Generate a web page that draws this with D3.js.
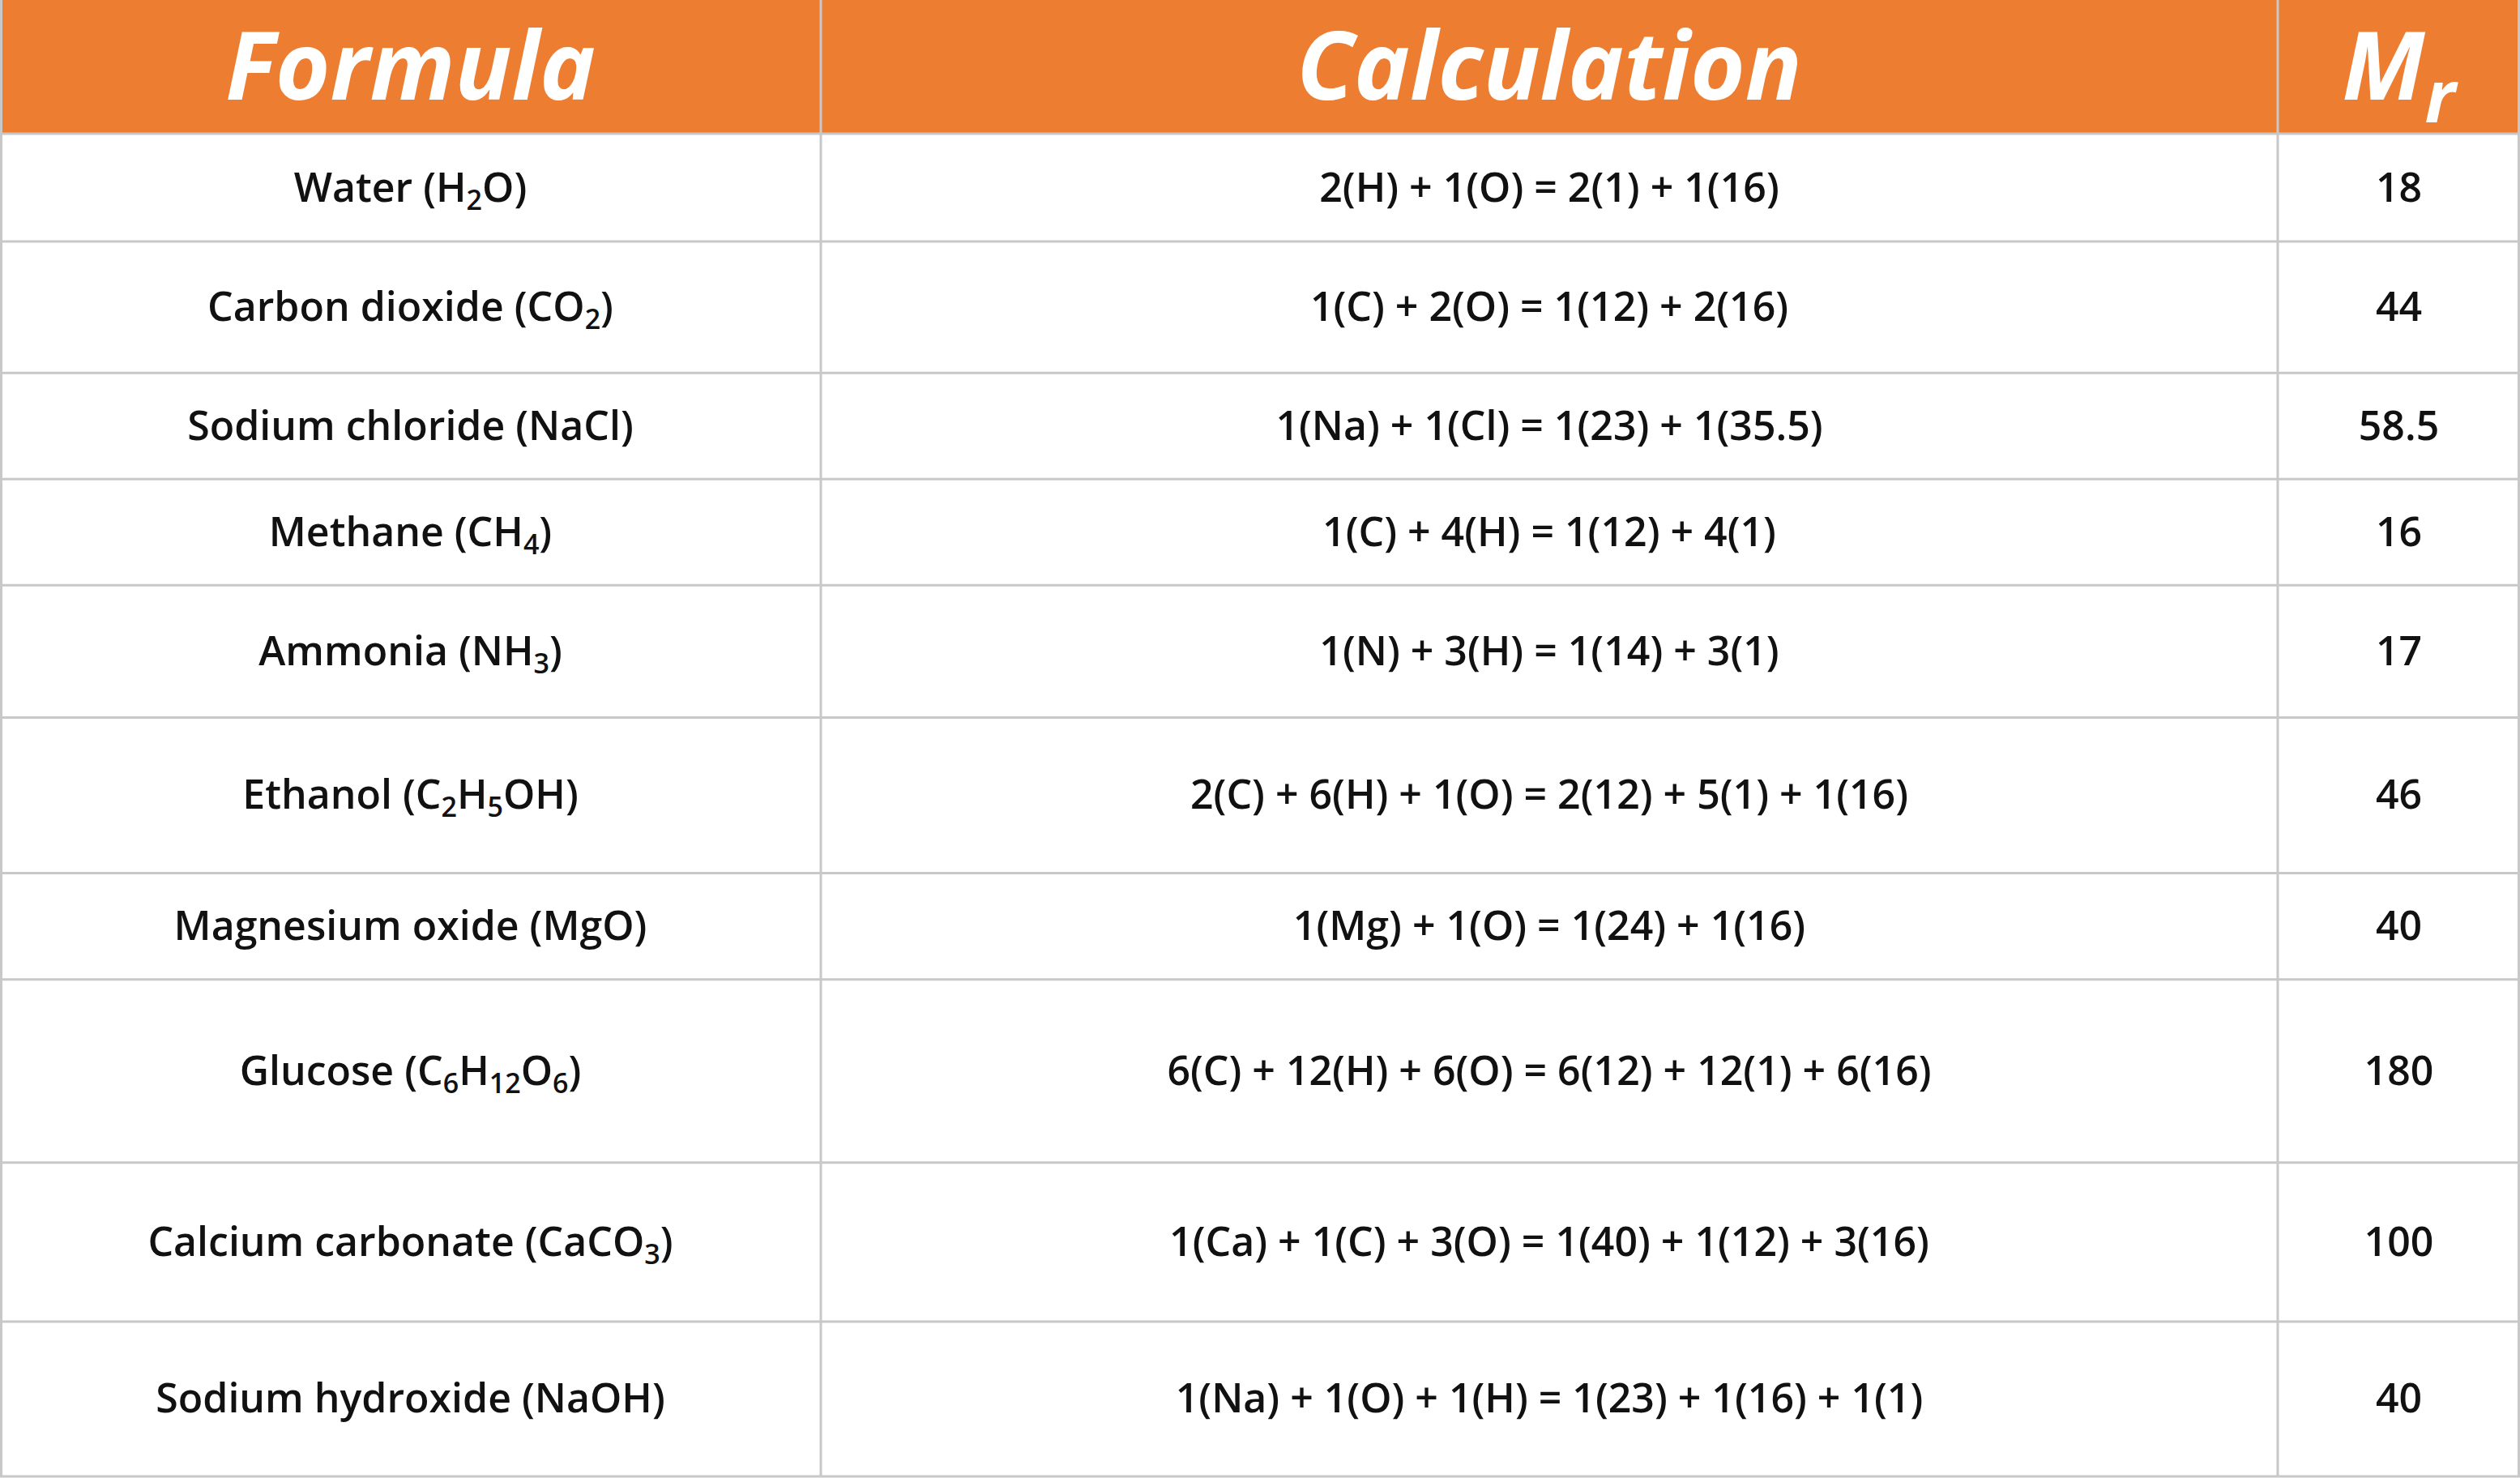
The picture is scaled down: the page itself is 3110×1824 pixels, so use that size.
<!DOCTYPE html>
<html><head><meta charset="utf-8">
<script src="https://cdn.jsdelivr.net/npm/d3@7"></script>
<style>body{margin:0;background:#fff}</style></head>
<body><svg id="c" width="3110" height="1824"></svg>
<script>
const headers = ["Formula", "Calculation", "M_r"];
const names = ["Water", "Carbon dioxide", "Sodium chloride", "Methane", "Ammonia", "Ethanol", "Magnesium oxide", "Glucose", "Calcium carbonate", "Sodium hydroxide"];
const formulas = ["H_2O", "CO_2", "NaCl", "CH_4", "NH_3", "C_2H_5OH", "MgO", "C_6H_{12}O_6", "CaCO_3", "NaOH"];
const calculations = [
  "2(H) + 1(O) = 2(1) + 1(16)",
  "1(C) + 2(O) = 1(12) + 2(16)",
  "1(Na) + 1(Cl) = 1(23) + 1(35.5)",
  "1(C) + 4(H) = 1(12) + 4(1)",
  "1(N) + 3(H) = 1(14) + 3(1)",
  "2(C) + 6(H) + 1(O) = 2(12) + 5(1) + 1(16)",
  "1(Mg) + 1(O) = 1(24) + 1(16)",
  "6(C) + 12(H) + 6(O) = 6(12) + 12(1) + 6(16)",
  "1(Ca) + 1(C) + 3(O) = 1(40) + 1(12) + 3(16)",
  "1(Na) + 1(O) + 1(H) = 1(23) + 1(16) + 1(1)"
];
const mr = ["18", "44", "58.5", "16", "17", "46", "40", "180", "100", "40"];
const rowWeights = [133, 162, 131, 131, 163, 192, 131, 226, 196, 191];

const svg = d3.select("#c");
const W = 3110, H = 1824, headH = 165;
const colX = [0, 1013, 2811, 3110];
const total = d3.sum(rowWeights);
const y = d3.scaleLinear().domain([0, total]).range([headH, H - 2]);
const cum = [0]; rowWeights.forEach(w => cum.push(cum[cum.length-1] + w));

const font = "'Open Sans', 'DejaVu Sans', sans-serif";
svg.append("rect").attr("x",0).attr("y",0).attr("width",W).attr("height",headH).attr("fill","#ED7D31");

function addRich(t, str, subSize, shift) {
  // split into segments: normal and subscript
  const segs = []; const re = /_(\{[^}]*\}|.)/g; let last = 0, m;
  while ((m = re.exec(str)) !== null) {
    if (m.index > last) segs.push({s: str.slice(last, m.index), sub: false});
    segs.push({s: m[1].replace(/[{}]/g, ""), sub: true});
    last = re.lastIndex;
  }
  if (last < str.length) segs.push({s: str.slice(last), sub: false});
  let cur = 0;
  segs.forEach(sg => {
    const target = sg.sub ? shift : 0;
    const ts = t.append("tspan").attr("dy", target - cur).text(sg.s);
    if (sg.sub) ts.attr("font-size", subSize);
    cur = target;
  });
}

headers.forEach((h, i) => {
  const t = svg.append("text").attr("x",(colX[i]+colX[i+1])/2).attr("y",headH/2+40)
    .attr("text-anchor","middle").attr("fill","#fff").attr("font-family",font)
    .attr("font-style","italic").attr("font-weight",700).attr("font-size",116);
  addRich(t, h, 90, 28);
});

names.forEach((n, i) => {
  const cy = (y(cum[i]) + y(cum[i+1])) / 2 + 17;
  const cells = [n + " (" + formulas[i] + ")", calculations[i], mr[i]];
  cells.forEach((c, j) => {
    const t = svg.append("text").attr("x",(colX[j]+colX[j+1])/2).attr("y",cy)
      .attr("text-anchor","middle").attr("fill","#111").attr("font-family",font)
      .attr("font-weight",600).attr("font-size",50);
    addRich(t, c, 34, 10);
  });
});

const g = svg.append("g").attr("stroke","#c8c8c8").attr("stroke-width",3);
cum.forEach((c, i) => g.append("line").attr("x1",0).attr("x2",W).attr("y1",y(c)).attr("y2",y(c)));
[1,2].forEach(i => g.append("line").attr("x1",colX[i]).attr("x2",colX[i]).attr("y1",0).attr("y2",H-2));
g.append("line").attr("x1",1.5).attr("x2",1.5).attr("y1",0).attr("y2",H-2);
g.append("line").attr("x1",W-1.5).attr("x2",W-1.5).attr("y1",0).attr("y2",H-2);
</script></body></html>
